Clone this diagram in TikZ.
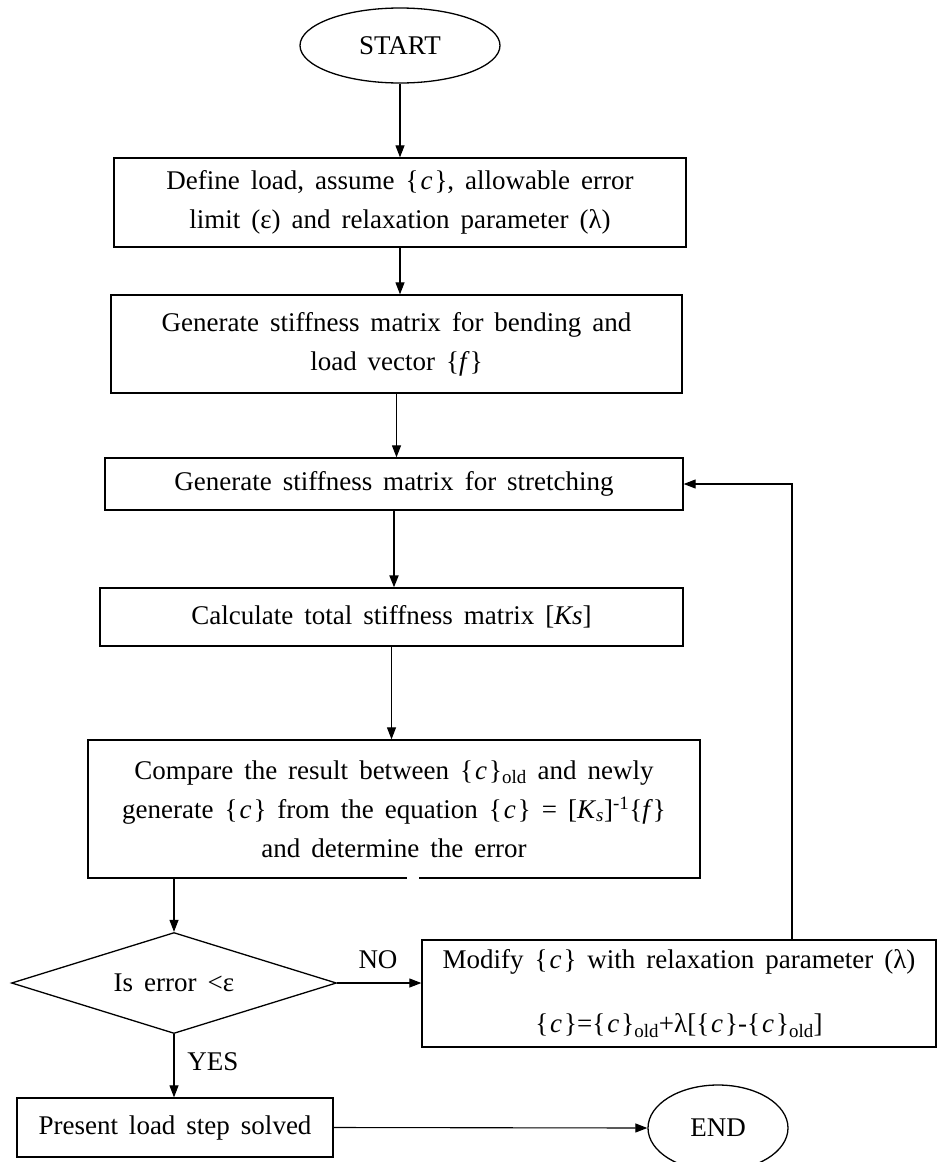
\documentclass[tikz,border=0pt]{standalone}
\usepackage{fontspec}
\setmainfont{Liberation Serif}
\usepackage{tikz}
\usetikzlibrary{shapes.geometric}
\usetikzlibrary{arrows.meta}
\newcommand{\widesp}{\spaceskip=11pt plus 3pt minus 2pt\relax}
\tikzset{
  flow/.style={draw, line width=1.3pt, inner sep=0pt, align=center, font=\fontsize{27}{39}\selectfont\widesp},
  link/.style={line width=1.1pt, -{Triangle[width=9pt,length=12pt]}},
  tag/.style={inner sep=0pt, font=\fontsize{27}{30}\selectfont}
}
\newcommand{\cellbox}[6]{\node[flow, rectangle, minimum width=#4pt, minimum height=#5pt] (#1) at ( #2 , #3 ) {#6};}
\newcommand{\cellend}[6]{\node[flow, ellipse, minimum width=#4pt, minimum height=#5pt] (#1) at ( #2 , #3 ) {#6};}
\newcommand{\cellask}[6]{\node[flow, diamond, aspect=3.2, minimum width=#4pt, minimum height=#5pt] (#1) at ( #2 , #3 ) {#6};}
\newcommand{\cc}{\{\kern2pt\textit{c}\kern2pt\}}

\begin{document}
\begin{tikzpicture}[x=1pt, y=-1pt]
        \useasboundingbox (0,0) rectangle (938,1162);

        % main column
        \cellend{start}{400}{45.5}{200}{75}{START}
        \cellbox{load}{400}{202.5}{572}{89}{Define load, assume \cc, allowable error\\ limit (ε) and relaxation parameter (λ)}
        \cellbox{bend}{396.5}{344}{571}{98}{Generate stiffness matrix for bending and\\ load vector \{\textit{f}\}}
        \cellbox{stretch}{394}{484}{578}{52}{Generate stiffness matrix for stretching}
        \cellbox{total}{391.5}{617}{583}{58}{Calculate total stiffness matrix [\textit{Ks}]}
        \cellbox{compare}{394}{809}{612}{138}{Compare the result between \cc\textsubscript{old} and newly\\ generate \cc\ from the equation \cc\ = [\textit{K}\textsubscript{\textit{s}}]\textsuperscript{-1}\{\textit{f}\}\\ and determine the error}

        % gap in the bottom line
        \fill[white] (407,875) rectangle (419,881);

        % decision
        \cellask{check}{174}{983}{325}{101}{Is error <ε}
        \cellbox{modify}{679}{993.5}{514}{107}{Modify \cc\ with relaxation parameter (λ)\\[25pt] \cc=\cc\textsubscript{old}+λ[\cc-\cc\textsubscript{old}]}
        \cellbox{solved}{175}{1127.5}{316}{59}{Present load step solved}
        \cellend{end}{718}{1128}{140}{86}{END}

        \coordinate (loop) at (792,484);

        % connectors
        \draw[link] (start.south) -- (start.south |- load.north);
        \draw[link] (load.south) -- (load.south |- bend.north);
        \draw[link] (bend.south) -- (bend.south |- stretch.north);
        \draw[link, line width=2pt] (stretch.south) -- (stretch.south |- total.north);
        \draw[link] (total.south) -- (total.south |- compare.north);
        \draw[link] (check.north |- compare.south) -- (check.north);
        \draw[link] (check.east) -- (check.east -| modify.west);
        \draw[link] (check.south) -- (check.south |- solved.north);
        \draw[link] (solved.east) -- (end.west);
        \draw[link] (modify.north -| loop) -- (loop) -- (stretch.east);

        \node[tag] (no) at (378,960) {NO};
        \node[tag] (yes) at (213,1062) {YES};
\end{tikzpicture}
\end{document}
